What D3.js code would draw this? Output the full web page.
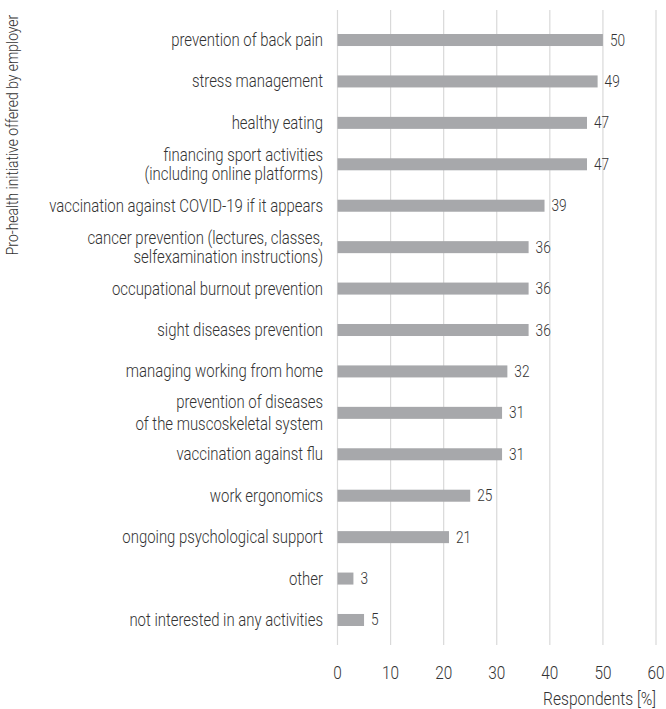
<!DOCTYPE html>
<html><head><meta charset="utf-8">
<script src="https://cdn.jsdelivr.net/npm/d3@7"></script>
<style>body{margin:0;background:#fff}svg{display:block}text{font-family:Roboto,"Liberation Sans",sans-serif;font-weight:300;fill:#333}</style>
</head><body><svg id="c" width="666" height="709"></svg>
<script>
const categories = [
  ["prevention of back pain"],
  ["stress management"],
  ["healthy eating"],
  ["financing sport activities", "(including online platforms)"],
  ["vaccination against COVID-19 if it appears"],
  ["cancer prevention (lectures, classes,", "selfexamination instructions)"],
  ["occupational burnout prevention"],
  ["sight diseases prevention"],
  ["managing working from home"],
  ["prevention of diseases", "of the muscoskeletal system"],
  ["vaccination against flu"],
  ["work ergonomics"],
  ["ongoing psychological support"],
  ["other"],
  ["not interested in any activities"]
];
const values = [50, 49, 47, 47, 39, 36, 36, 36, 32, 31, 31, 25, 21, 3, 5];
const xTicks = [0, 10, 20, 30, 40, 50, 60];
const xTitle = "Respondents [%]";
const yTitle = "Pro-health initiative offered by employer";

(function () {
const svg = d3.select("#c");
const mLeft = 337.5, mRight = 656, mTop = 19.3, mBottom = 640.7;
const x = d3.scaleLinear().domain([0, 60]).range([mLeft, mRight]);
const y = d3.scaleBand().domain(d3.range(categories.length)).range([mTop, mBottom]).paddingInner(0.71).paddingOuter(0.355);

const FS = 17.5;
// measure condensing factor
const probe = svg.append("text").attr("font-size", FS).text("prevention of back pain");
const s = 152 / probe.node().getComputedTextLength();
probe.remove();

function ctext(parent, px, py, anchor, size, str, rot) {
  const g = parent.append("g").attr("transform", `translate(${px},${py})${rot ? " rotate(" + rot + ")" : ""} scale(${s},1)`);
  return g.append("text").attr("text-anchor", anchor).attr("font-size", size).text(str);
}

// gridlines
svg.append("g").selectAll("line").data(xTicks).join("line")
  .attr("x1", d => x(d)).attr("x2", d => x(d)).attr("y1", 10).attr("y2", 645)
  .attr("stroke", "#d9d9d9").attr("stroke-width", 1.2);

// bars
svg.append("g").selectAll("rect").data(values).join("rect")
  .attr("x", x(0)).attr("y", (d, i) => y(i)).attr("width", d => x(d) - x(0)).attr("height", y.bandwidth())
  .attr("fill", "#a7a8ab");

// value labels
values.forEach((v, i) => {
  ctext(svg, x(v) + 7, y(i) + y.bandwidth() / 2 + 5.5, "start", 16, v);
});

// category labels
const lineGap = i => (i === 9 ? 22 : 19);
categories.forEach((lines, i) => {
  const cy = y(i) + y.bandwidth() / 2;
  const n = lines.length;
  lines.forEach((ln, k) => {
    const off = (k - (n - 1) / 2) * lineGap(i);
    ctext(svg, 323, cy + off + 6, "end", FS, ln);
  });
});

// x tick labels
xTicks.forEach(t => ctext(svg, x(t), 678.5, "middle", 18, t));

// axis titles
ctext(svg, 656, 705, "end", 18.3, xTitle);
ctext(svg, 17.5, 135, "middle", 16.3, yTitle, -90);
})();
</script></body></html>
